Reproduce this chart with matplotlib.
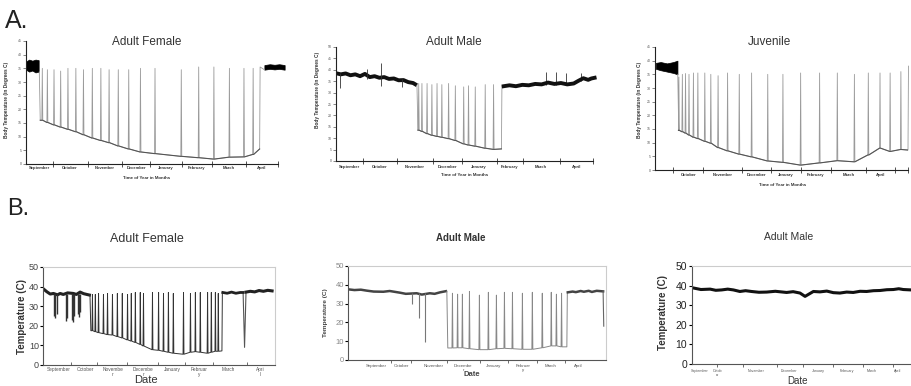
import matplotlib.pyplot as plt
from matplotlib.transforms import blended_transform_factory

plt.rcParams['font.family'] = ['Liberation Sans', 'DejaVu Sans']

W, H = 911, 386
DROP = 0.03  # width of one arousal spike (months)

months = ["September", "October", "November", "December",
          "January", "February", "March", "April"]

# x values are months counted from 1 September, y values are deg C

# ---------- A. Adult Female ----------
af_blob_t = [0.0, 0.1, 0.2, 0.3, 0.4]
af_blob_lo = [34.5, 33.8, 34.2, 33.5, 33.8]
af_blob_hi = [37.5, 38.2, 37.8, 38.2, 38.0]
af_entry = 0.42
af_arousal = [0.50, 0.66, 0.87, 1.08, 1.31, 1.56, 1.80, 2.08, 2.35, 2.61, 2.90,
              3.23, 3.60, 4.06, 4.89, 5.44, 5.92, 6.41, 6.87, 7.16, 7.38]
af_floor = [16, 15.2, 14.3, 13.5, 12.7, 11.8, 10.7, 9.5, 8.6, 7.8, 6.6,
            5.5, 4.4, 3.8, 2.8, 2.3, 1.8, 2.5, 2.6, 3.5, 5.5]
af_peak = [35, 34.5, 34.5, 34, 35, 35, 34.5, 35, 35, 34.5, 34.5,
           34.5, 35, 35, 34.5, 35.5, 35.5, 35, 35, 35, 35.5]
af_end_t = [7.53, 7.7, 7.85, 8.0, 8.17]
af_end_lo = [34.5, 34.8, 34.6, 34.8, 34.5]
af_end_hi = [36.2, 36.5, 36.3, 36.5, 36.2]
af_edges = [0, 0.84, 1.95, 3.04, 3.92, 4.94, 5.86, 6.95, 7.96]

# ---------- A. Adult Male ----------
am_eu1_t = [0, 0.15, 0.3, 0.45, 0.6, 0.75, 0.9, 1.05, 1.2, 1.35, 1.5, 1.65,
            1.8, 1.95, 2.1, 2.25, 2.4, 2.52]
am_eu1_T = [38.5, 38, 38.4, 37.6, 38, 37.2, 38.2, 36.8, 37.2, 36.5, 36.8, 36,
            36.2, 35.4, 35.5, 34.6, 34.2, 33.2]
am_arousal = [2.56, 2.66, 2.82, 2.97, 3.13, 3.28, 3.49, 3.70, 3.96, 4.11,
              4.32, 4.63, 4.89, 5.15]
am_floor = [13.5, 13, 12, 11.3, 10.8, 10.4, 9.8, 9, 7.5, 7, 6.5, 5.6, 5.1, 5.3]
am_peak = [34, 34, 34, 33.5, 34, 33.5, 34, 33, 32.5, 33, 32.5, 33.5, 33.5, 33]
am_eu2_t = [5.22, 5.4, 5.6, 5.8, 6.0, 6.2, 6.4, 6.6, 6.8, 7.0, 7.2, 7.4,
            7.55, 7.7, 7.85, 7.95, 8.05]
am_eu2_T = [32.8, 33.2, 32.8, 33.4, 33.2, 33.8, 33.6, 34.4, 33.8, 34.2, 33.6,
            34, 35.2, 36.3, 35.6, 36.2, 36.5]
am_spike_t = [0.12, 0.95, 1.40, 2.05, 6.55, 6.86, 7.17, 7.64]
am_spike_lo = [32, 36, 33, 32.5, 33.5, 33.5, 33.5, 35]
am_spike_hi = [38.5, 40.5, 43, 36, 39, 39, 38.5, 38.5]
am_edges = [0, 0.83, 1.89, 3.03, 3.91, 5.0, 5.82, 6.96, 8.0]

# ---------- A. Juvenile ----------
jv_blob_t = [0.45, 0.6, 0.8, 1.0, 1.13]
jv_blob_lo = [37, 36.5, 36, 35.5, 35]
jv_blob_hi = [39.2, 39.5, 39, 39.5, 40]
jv_entry = 1.14
jv_arousal = [1.16, 1.27, 1.37, 1.48, 1.62, 1.76, 1.98, 2.17, 2.40, 2.70, 3.07,
              3.46, 3.97, 4.45, 5.01, 5.61, 6.17, 6.71, 7.15, 7.52, 7.84, 8.18, 8.42]
jv_floor = [14.5, 14, 13.5, 12.8, 12, 11.5, 10.5, 9.8, 8.2, 7, 5.8,
            4.8, 3.3, 2.8, 1.8, 2.6, 3.4, 3, 5.5, 8, 6.8, 7.5, 7.3]
jv_peak = [34, 35, 35.3, 35, 35.5, 35.5, 35.5, 35, 34.5, 35.5, 35,
           35.5, 35, 35, 35.5, 35.5, 35.5, 35, 35.5, 35.5, 35.5, 36, 38]
jv_edges = [0.42, 1, 1.95, 3.17, 4.08, 5.03, 5.98, 7.1, 8.0, 8.42]
jv_names = ["", "October", "November", "December", "January",
            "February", "March", "April", ""]

# ---------- B. Adult Female ----------
bf_eu1_t = [0.0, 0.13, 0.25, 0.36, 0.5, 0.59, 0.7, 0.85, 1.05, 1.15, 1.28, 1.4, 1.51, 1.6]
bf_eu1_T = [39, 37.4, 36.2, 36.5, 35.8, 36.5, 36, 36.8, 36.5, 36, 37.2, 36.4, 36, 35.7]
bf_test_t = [0.38, 0.43, 0.48, 0.80, 0.84, 1.01, 1.05, 1.08, 1.19, 1.23, 1.27]
bf_test_lo = [25, 24, 26, 22.5, 24, 23, 22, 25, 26, 24.5, 27]
bf_entry = 1.62
bf_arousal = [1.69, 1.79, 1.90, 2.07, 2.21, 2.38, 2.55, 2.72, 2.90, 3.03, 3.17,
              3.34, 3.45, 3.76, 3.97, 4.14, 4.31, 4.48, 4.83, 5.07, 5.24, 5.41,
              5.66, 5.79, 5.93, 6.03, 6.17]
bf_floor = [17.5, 17, 16.5, 16, 15.5, 15.3, 14.5, 13.8, 12.8, 12.2, 11.5,
            10.5, 9.7, 7.8, 7.5, 7, 6.5, 6, 5.5, 6.5, 6.8, 6.5,
            6, 6.5, 7, 7, 7.2]
bf_peak = [36, 36, 36.5, 36, 36.5, 36, 36.5, 36.5, 36, 36.5, 37,
           37, 36.5, 37, 37, 36.5, 37, 36.5, 37, 36.5, 37, 37,
           37, 37, 37, 36.5, 37]
bf_eu2_t = [6.2, 6.35, 6.5, 6.65, 6.8, 6.9]
bf_eu2_T = [37, 36.6, 37.2, 36.6, 37, 37]
bf_drop_t = 6.95
bf_drop_T = 9
bf_eu3_t = [7.0, 7.15, 7.3, 7.45, 7.6, 7.75, 7.9]
bf_eu3_T = [37.2, 37.6, 37.3, 38, 37.6, 38.1, 37.8]
bf_ticks = [0.97, 1.86, 2.9, 3.97, 4.9, 5.86, 7.03]
bf_lab_x = [0.53, 1.47, 2.4, 3.45, 4.45, 5.38, 6.38, 7.48]
bf_names = ["September", "October", "Novembe\nr", "Decembe\nr",
            "January", "Februar\ny", "March", "Apri\nl"]

# ---------- B. Adult Male (middle) ----------
bm_eu1_t = [0.0, 0.2, 0.4, 0.58, 0.8, 1.1, 1.3, 1.62, 1.8, 2.14, 2.3, 2.55, 2.7, 2.87, 3.05]
bm_eu1_T = [37.6, 37.2, 37.4, 36.9, 36.4, 36.3, 36.7, 35.8, 35.2, 35.5, 34.8, 35.5, 35.2, 36, 36.6]
bm_test_t = [1.98, 2.22, 2.40]
bm_test_lo = [30, 22.2, 9.8]
bm_entry = 3.08
bm_arousal = [3.24, 3.40, 3.55, 3.77, 4.08, 4.36, 4.61, 4.86, 5.11, 5.42,
              5.73, 6.04, 6.32, 6.48, 6.64, 6.82]
bm_floor = [6.4, 6.5, 6.5, 6, 5.5, 5.5, 6, 6.2, 6, 5.7, 5.7, 6.5, 7.5, 7.5, 7, 7]
bm_peak = [35.5, 35, 35, 36.5, 34.5, 36, 34.5, 36, 36, 35.5, 36, 35.5,
           36, 35, 35.5, 36]
bm_eu2_t = [6.85, 7.0, 7.1, 7.25, 7.35, 7.5, 7.6, 7.75, 7.95]
bm_eu2_T = [36, 36.4, 36.1, 36.7, 36.3, 36.8, 36.2, 36.8, 36.5]
bm_end_T = 18
bm_ticks = [1.33, 1.96, 3.1, 4.11, 4.99, 5.88, 6.76]
bm_lab_x = [0.89, 1.67, 2.66, 3.59, 4.53, 5.46, 6.31, 7.18]
bm_names = ["September", "October", "November", "Decembe\nr",
            "January", "Februar\ny", "March", "April"]

# ---------- B. Adult Male (right) ----------
br_t = [0.04, 0.3, 0.61, 0.8, 1.0, 1.2, 1.39, 1.61, 1.8, 2.0, 2.25, 2.51, 2.8,
        3.18, 3.4, 3.63, 3.80, 4.08, 4.3, 4.53, 4.75, 4.97, 5.2, 5.42, 5.65,
        5.87, 6.1, 6.32, 6.55, 6.77, 6.95, 7.10, 7.36]
br_T = [38.8, 38, 38.2, 37.6, 37.8, 38.2, 37.8, 37, 37.4, 37, 36.6, 36.7, 37.1,
        36.5, 36.9, 36.2, 34.5, 37, 36.8, 37.2, 36.4, 36.2, 36.7, 36.5, 37.1,
        37, 37.4, 37.5, 37.9, 38, 38.4, 38, 37.8]
br_ticks = [0.83, 1.72, 2.85, 3.74, 4.75, 5.76, 6.77]
br_lab_x = [0.27, 0.87, 2.17, 3.26, 4.25, 5.2, 6.04, 6.93]
br_names = ["September", "Octob\ner", "November", "December",
            "January", "February", "March", "April"]


def box(l, t, r, b):
    return [l / W, 1 - b / H, (r - l) / W, (b - t) / H]


def ftext(px, py, s, **kw):
    fig.text(px / W, 1 - py / H, s, **kw)


def torpor(entry_t, entry_T, arousal, floor, peak):
    xs, ys = [entry_t, entry_t + DROP], [entry_T, floor[0]]
    for i in range(len(arousal)):
        xs += [arousal[i], arousal[i] + DROP / 2]
        ys += [floor[i], peak[i]]
        if i + 1 < len(arousal):
            xs.append(arousal[i] + DROP)
            ys.append(floor[i])
    return xs, ys


def floors_only(entry_t, arousal, floor):
    xs, ys = [entry_t + DROP], [floor[0]]
    for i in range(len(arousal)):
        xs.append(arousal[i])
        ys.append(floor[i])
        if i + 1 < len(arousal):
            xs.append(arousal[i] + DROP)
            ys.append(floor[i])
    return xs, ys


def a_axes(rect, ymax, edges, names, lab_y):
    ax = fig.add_axes(box(*rect))
    ax.set_xlim(edges[0], edges[-1])
    ax.set_ylim(0, ymax)
    for s in ['top', 'right']:
        ax.spines[s].set_visible(False)
    for s in ['left', 'bottom']:
        ax.spines[s].set_linewidth(0.8)
        ax.spines[s].set_color('#222')
    ax.set_yticks(range(0, ymax + 1, 5))
    ax.tick_params(axis='y', length=2, width=0.5, labelsize=2.5, pad=1,
                   colors='#555')
    ax.set_xticks(edges[1:])
    ax.set_xticklabels([])
    ax.tick_params(axis='x', direction='inout', length=4, width=0.6, color='#333')
    tr = blended_transform_factory(ax.transData, fig.transFigure)
    for i, name in enumerate(names):
        ax.text((edges[i] + edges[i + 1]) / 2, 1 - lab_y / H, name, transform=tr,
                ha='center', va='center', fontsize=3, fontweight='bold',
                color='#333')
    return ax


def b_axes(rect, xmax, ticks, lab_x, names, lab_y, labsize, tick_dir):
    ax = fig.add_axes(box(*rect))
    ax.set_xlim(0, xmax)
    ax.set_ylim(0, 50)
    for s in ['top', 'right']:
        ax.spines[s].set_color('#cccccc')
        ax.spines[s].set_linewidth(0.8)
    for s in ['left', 'bottom']:
        ax.spines[s].set_color('#555')
        ax.spines[s].set_linewidth(0.8)
    ax.set_yticks(range(0, 51, 10))
    ax.set_xticks(ticks)
    ax.set_xticklabels([])
    ax.tick_params(axis='x', direction=tick_dir, length=2.5, width=0.6, color='#555')
    tr = blended_transform_factory(ax.transData, fig.transFigure)
    for x, name in zip(lab_x, names):
        ax.text(x, 1 - lab_y / H, name, transform=tr, ha='center', va='top',
                fontsize=labsize, color='#555', linespacing=0.9)
    return ax


fig = plt.figure(figsize=(W / 100, H / 100), dpi=100)

ftext(5, 28, "A.", fontsize=18, color='#222', va='baseline')
ftext(7, 215, "B.", fontsize=17, color='#222', va='baseline')

# ----- A1 -----
ax = a_axes((26, 41, 278, 164), 45, af_edges, months, 168)
ax.fill_between(af_blob_t, af_blob_lo, af_blob_hi, color='black', lw=0.5)
xs, ys = torpor(af_entry, af_blob_lo[-1], af_arousal, af_floor, af_peak)
xs.append(af_end_t[0])
ys.append(af_end_lo[0])
ax.plot(xs, ys, color='#9a9a9a', lw=0.6)
fx, fy = floors_only(af_entry, af_arousal, af_floor)
ax.plot(fx, fy, color='#555', lw=0.8)
ax.fill_between(af_end_t, af_end_lo, af_end_hi, color='black', lw=0.5, clip_on=False)
ftext(147, 42, "Adult Female", fontsize=8.5, color='#333', ha='center', va='center')
ftext(147, 178, "Time of Year in Months", fontsize=3.2, fontweight='bold',
      color='#333', ha='center', va='center')
ftext(7, 100, "Body Temperature (in Degrees C)", fontsize=3.4, fontweight='bold',
      color='#333', ha='center', va='center', rotation=90)

# ----- A2 -----
ax = a_axes((336, 47, 593, 161), 50, am_edges, months, 167)
ax.plot(am_eu1_t, am_eu1_T, color='#111', lw=2.8, solid_capstyle='butt')
ax.vlines(am_spike_t, am_spike_lo, am_spike_hi, color='#333', lw=0.6)
xs, ys = torpor(am_eu1_t[-1], am_eu1_T[-1], am_arousal, am_floor, am_peak)
xs.append(am_eu2_t[0])
ys.append(am_eu2_T[0])
ax.plot(xs, ys, color='#9a9a9a', lw=0.6)
fx, fy = floors_only(am_eu1_t[-1], am_arousal, am_floor)
ax.plot(fx, fy, color='#555', lw=0.8)
ax.plot(am_eu2_t, am_eu2_T, color='#111', lw=2.8, clip_on=False)
ftext(454, 42, "Adult Male", fontsize=8.5, color='#333', ha='center', va='center')
ftext(465, 175, "Time of Year in Months", fontsize=3.2, fontweight='bold',
      color='#333', ha='center', va='center')
ftext(317, 90, "Body Temperature (in Degrees C)", fontsize=3.4, fontweight='bold',
      color='#333', ha='center', va='center', rotation=90)

# ----- A3 -----
ax = a_axes((655, 47, 908, 170), 45, jv_edges, jv_names, 175)
ax.fill_between(jv_blob_t, jv_blob_lo, jv_blob_hi, color='black', lw=0.5)
xs, ys = torpor(jv_entry, jv_blob_lo[-1], jv_arousal, jv_floor, jv_peak)
ax.plot(xs, ys, color='#9a9a9a', lw=0.6, clip_on=False)
fx, fy = floors_only(jv_entry, jv_arousal, jv_floor)
ax.plot(fx, fy, color='#555', lw=0.8)
ftext(769, 42, "Juvenile", fontsize=8.5, color='#333', ha='center', va='center')
ftext(783, 185, "Time of Year in Months", fontsize=3.2, fontweight='bold',
      color='#333', ha='center', va='center')
ftext(640, 100, "Body Temperature (in Degrees C)", fontsize=3.4, fontweight='bold',
      color='#333', ha='center', va='center', rotation=90)

# ----- B1 -----
ax = b_axes((43, 267, 275, 365), 8, bf_ticks, bf_lab_x, bf_names, 367, 3.4, 'in')
ax.tick_params(axis='y', length=2, labelsize=6.5, labelcolor='#444', pad=1)
ax.plot(bf_eu1_t, bf_eu1_T, color='#222', lw=2.2)
ax.vlines(bf_test_t, bf_test_lo, 36, color='#333', lw=1.0)
xs, ys = torpor(bf_entry, bf_eu1_T[-1], bf_arousal, bf_floor, bf_peak)
xs.append(bf_eu2_t[0])
ys.append(bf_eu2_T[0])
ax.plot(xs, ys, color='#333', lw=0.7)
ax.plot(bf_eu2_t + [bf_drop_t, bf_eu3_t[0]], bf_eu2_T + [bf_drop_T, bf_eu3_T[0]],
        color='#555', lw=0.8)
ax.plot(bf_eu2_t, bf_eu2_T, color='#222', lw=2.0)
ax.plot(bf_eu3_t, bf_eu3_T, color='#222', lw=2.2)
ftext(147, 239, "Adult Female", fontsize=9, color='#333', ha='center', va='center')
ftext(146, 380, "Date", fontsize=8, color='#333', ha='center', va='center')
ftext(22, 317, "Temperature (C)", fontsize=7, fontweight='bold', color='#333',
      ha='center', va='center', rotation=90)

# ----- B2 -----
ax = b_axes((348, 266, 606, 360), 8.04, bm_ticks, bm_lab_x, bm_names, 364, 3.2, 'out')
ax.tick_params(axis='y', length=2, labelsize=5.5, labelcolor='#888', pad=1)
ax.plot(bm_eu1_t, bm_eu1_T, color='#444', lw=1.8)
ax.vlines(bm_test_t, bm_test_lo, 35.5, color='#777', lw=0.8)
xs, ys = torpor(bm_entry, bm_eu1_T[-1], bm_arousal, bm_floor, bm_peak)
xs.append(bm_eu2_t[0])
ys.append(bm_eu2_T[0])
ax.plot(xs, ys, color='#888', lw=0.7)
ax.plot(bm_eu2_t, bm_eu2_T, color='#444', lw=1.8)
ax.plot([bm_eu2_t[-1], bm_eu2_t[-1] + 0.02], [bm_eu2_T[-1], bm_end_T],
        color='#666', lw=0.8)
ftext(461, 238, "Adult Male", fontsize=7, fontweight='bold', color='#333',
      ha='center', va='center')
ftext(472, 374, "Date", fontsize=5.5, fontweight='bold', color='#444',
      ha='center', va='center')
ftext(325, 313, "Temperature (C)", fontsize=4.6, fontweight='bold', color='#444',
      ha='center', va='center', rotation=90)

# ----- B3 -----
ax = b_axes((692, 266, 930, 364), 8, br_ticks, br_lab_x, br_names, 369, 2.6, 'out')
ax.tick_params(axis='y', length=2.5, labelsize=7.5, labelcolor='#222', pad=1)
ax.plot(br_t, br_T, color='#111', lw=2.2)
ftext(789, 237, "Adult Male", fontsize=7.5, color='#333', ha='center', va='center')
ftext(797, 381, "Date", fontsize=7, color='#333', ha='center', va='center')
ftext(663, 312, "Temperature (C)", fontsize=7, fontweight='bold', color='#333',
      ha='center', va='center', rotation=90)

fig.savefig("out.png", dpi=100)
